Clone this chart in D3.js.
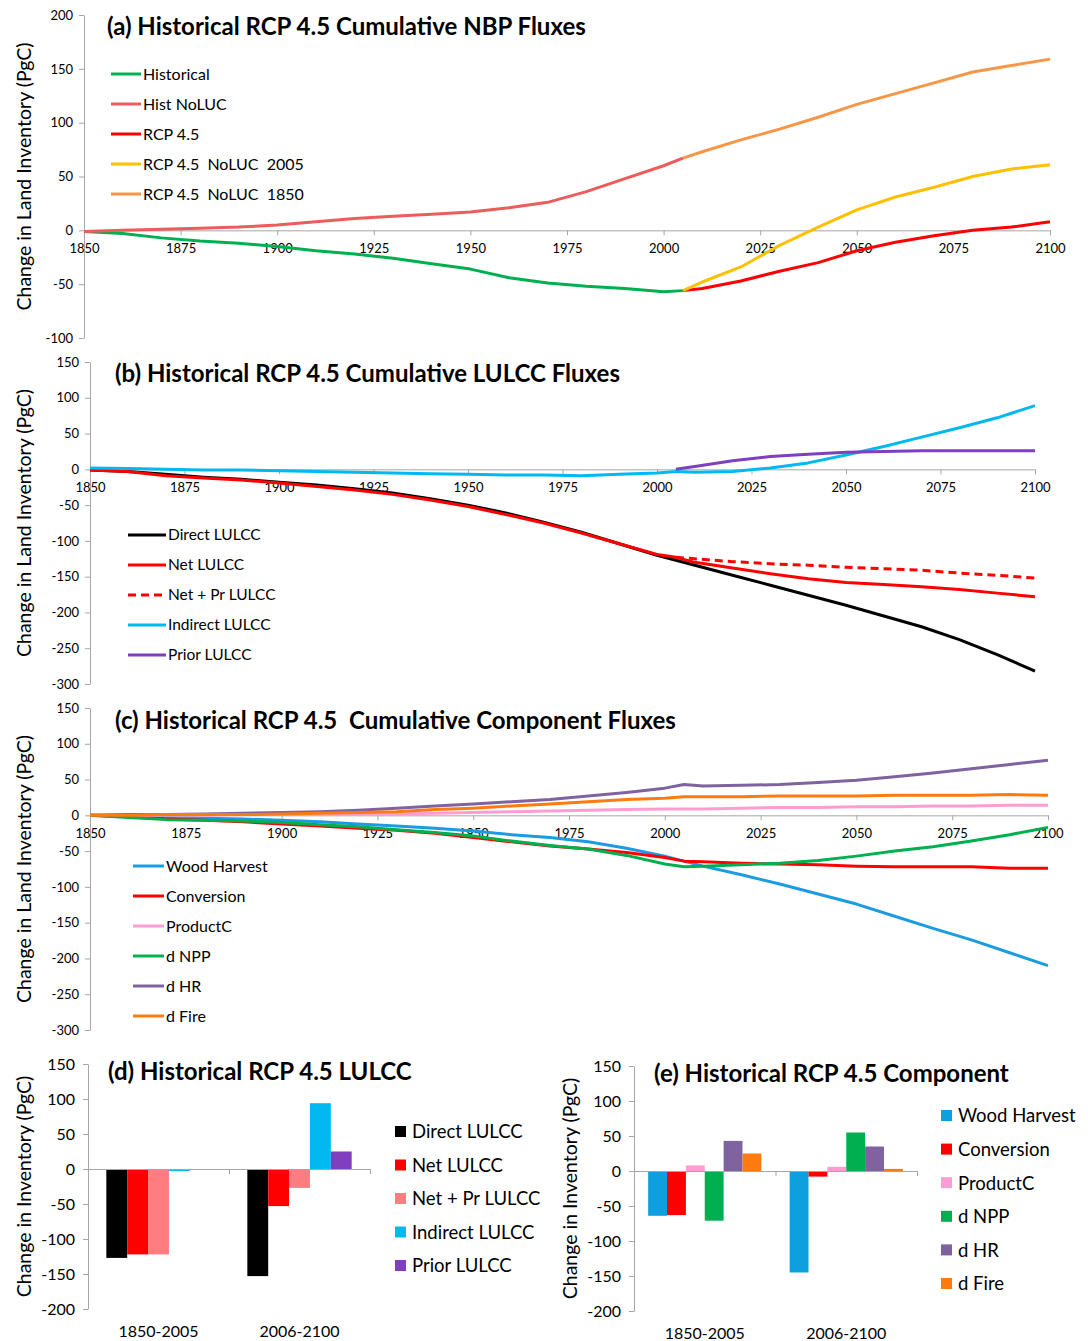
<!DOCTYPE html>
<html>
<head>
<meta charset="utf-8">
<script src="https://cdn.jsdelivr.net/npm/d3@7"></script>
<style>
  body { margin: 0; background: #fff; }
  text { font-family: Lato, "Open Sans", sans-serif; fill: #000; white-space: pre; }
</style>
</head>
<body>
<svg width="1088" height="1341"></svg>
<script>
// ---- years ----
const histYears = [1850,1860,1870,1880,1890,1900,1910,1920,1930,1940,1950,1960,1970,1980,1990,2000,2005]
const futYears = [2005,2010,2020,2030,2040,2050,2060,2070,2080,2090,2100]
const allYears = histYears.concat(futYears.slice(1))
const yearTicks = [1850,1875,1900,1925,1950,1975,2000,2025,2050,2075,2100]

// ---- (a) cumulative NBP ----
const historical = [-1,-3,-7,-10,-12,-15,-19,-22,-26,-31,-36,-44,-49,-52,-54,-57,-56]
const histNoLUC = [-1,0,1,2,3,5,8,11,13,15,17,21,26,36,48,60,67]
const rcp45 = [-56,-54,-47,-38,-30,-19,-11,-5,0,3,8]
const rcp45NoLUC2005 = [-56,-48,-34,-14,3,19,31,40,50,57,61]
const rcp45NoLUC1850 = [67,73,84,94,105,117,127,137,147,153,159]

// ---- (b) cumulative LULCC ----
const directLULCC = [-1,-3,-7,-11,-14,-18,-22,-27,-33,-41,-50,-61,-74,-88,-104,-120,-127,-134,-148,-162,-176,-190,-205,-220,-238,-259,-282]
const netLULCC = [-1,-3,-9,-12,-15,-19,-24,-29,-35,-43,-52,-63,-75,-89,-104,-119,-123,-130,-138,-146,-153,-158,-161,-164,-168,-173,-178]
const netPrLULCC = [-123,-125,-129,-132,-134,-137,-139,-141,-145,-148,-152]
const indirectLULCC = [2,1,0,-1,-1,-2,-3,-4,-5,-6,-7,-8,-8,-9,-7,-5,-3,-4,-3,2,9,20,32,45,58,72,89]
const priorLULCC = [0,4,12,18,21,24,25,26,26,26,26]

// ---- (c) cumulative components ----
const woodHarvest = [0,-1,-2,-4,-5,-7,-9,-12,-15,-18,-22,-27,-31,-37,-46,-57,-64,-71,-83,-96,-110,-124,-141,-158,-174,-192,-210]
const conversion = [0,-2,-5,-7,-9,-12,-15,-18,-21,-25,-31,-37,-43,-47,-52,-59,-64,-65,-67,-68,-69,-71,-72,-72,-72,-74,-74]
const productC = [0,0,0,0,1,1,1,2,2,3,4,5,6,7,8,9,9,9,10,11,11,12,12,13,13,14,14]
const dNPP = [0,-3,-6,-7,-8,-10,-13,-16,-20,-24,-29,-36,-42,-47,-56,-68,-72,-71,-69,-67,-63,-57,-50,-44,-36,-27,-17]
const dHR = [0,1,1,2,3,4,5,7,10,13,16,19,22,27,32,38,43,41,42,43,46,49,54,59,65,71,77]
const dFire = [0,0,1,1,1,2,3,4,5,8,10,13,16,19,22,24,26,26,26,27,27,27,28,28,28,29,28]

// ---- (d), (e) period totals ----
const periods = ['1850-2005', '2006-2100']
const lulccNames = ['Direct LULCC', 'Net LULCC', 'Net + Pr LULCC', 'Indirect LULCC', 'Prior LULCC']
const lulccTotals = [[-127,-122,-122,-3,0], [-153,-53,-27,94,25]]
const compNames = ['Wood Harvest', 'Conversion', 'ProductC', 'd NPP', 'd HR', 'd Fire']
const compTotals = [[-64,-63,8,-71,43,25], [-145,-8,6,55,35,3]]

const svg = d3.select('svg')
const axisColor = '#a6a6a6'
const plain = d => String(d)   // keep ascii hyphen for negatives, like the original

const zip = (years, vals) => years.map((yr, i) => ({ year: yr, v: vals[i] }))

function styleAxis(g, size) {
  g.select('.domain').attr('stroke', axisColor)
  g.selectAll('.tick line').attr('stroke', axisColor)
  g.selectAll('.tick text').style('font-size', size + 'px')
}

function yLabel(cx, cy, label, size) {
  svg.append('text')
    .attr('transform', `translate(${cx},${cy}) rotate(-90)`)
    .attr('text-anchor', 'middle')
    .attr('dy', '0.35em')
    .style('font-size', size + 'px')
    .text(label)
}

function title(x, y, t) {
  svg.append('text').attr('x', x).attr('y', y)
    .style('font-size', '24px').style('font-weight', 'bold')
    .text(t)
}

function linePanel(p) {
  const x = d3.scaleLinear().domain([1850, 2100]).range([p.x0, p.x1])
  const y = d3.scaleLinear().domain([p.ymin, p.ymax]).range([p.yb, p.yt])

  svg.append('g')
      .attr('transform', `translate(${p.x0},0)`)
      .call(d3.axisLeft(y).tickValues(d3.range(p.ymin, p.ymax + 1, 50)).tickFormat(plain).tickSize(5).tickPadding(6).tickSizeOuter(0))
      .call(g => styleAxis(g, 13))

  svg.append('g')
      .attr('transform', `translate(0,${y(0)})`)
      .call(d3.axisBottom(x).tickValues(yearTicks).tickFormat(plain).tickSize(5).tickPadding(8).tickSizeOuter(0))
      .call(g => styleAxis(g, 13))

  const line = d3.line().x(d => x(d.year)).y(d => y(d.v))
  p.series.forEach(s => {
    svg.append('path')
      .datum(zip(s.years, s.values))
      .attr('fill', 'none')
      .attr('stroke', s.color)
      .attr('stroke-width', 3)
      .attr('stroke-linejoin', 'round')
      .attr('stroke-dasharray', s.dash || null)
      .attr('d', line)
  })

  const leg = svg.append('g')
  p.series.forEach((s, i) => {
    const ly = p.ly + i * p.ldy
    leg.append('line')
      .attr('x1', p.lx0).attr('x2', p.lx1).attr('y1', ly).attr('y2', ly)
      .attr('stroke', s.color).attr('stroke-width', 3)
      .attr('stroke-dasharray', s.dash || null)
    leg.append('text')
      .attr('x', p.lx1 + 2).attr('y', ly).attr('dy', '0.35em')
      .style('font-size', p.lsize + 'px')
      .text(s.name)
  })

  title(p.tx, p.ty, p.title)
  yLabel(24, (p.yt + p.yb) / 2, 'Change in Land Inventory (PgC)', 19.5)
}

function barPanel(p) {
  const x0 = d3.scaleBand().domain(periods).range([p.x0, p.x1]).paddingInner(p.pin).paddingOuter(p.pout)
  const x1 = d3.scaleBand().domain(p.names).range([0, x0.bandwidth()])
  const y = d3.scaleLinear().domain([-200, 150]).range([p.yb, p.yt])

  svg.append('g')
      .attr('transform', `translate(${p.x0},0)`)
      .call(d3.axisLeft(y).tickValues(d3.range(-200, 151, 50)).tickFormat(plain).tickSize(5).tickPadding(8).tickSizeOuter(0))
      .call(g => styleAxis(g, 16))

  const groups = svg.append('g').selectAll('g')
    .data(p.totals)
    .join('g')
      .attr('transform', (d, i) => `translate(${x0(periods[i])},0)`)
  groups.selectAll('rect')
    .data(d => d.map((v, j) => ({ name: p.names[j], v, color: p.colors[j] })))
    .join('rect')
      .attr('x', d => x1(d.name))
      .attr('width', x1.bandwidth())
      .attr('y', d => y(Math.max(0, d.v)))
      .attr('height', d => Math.abs(y(d.v) - y(0)))
      .attr('fill', d => d.color)

  // zero line with category dividers
  svg.append('g')
      .attr('transform', `translate(0,${y(0)})`)
      .call(d3.axisBottom(d3.scaleLinear().domain([0, 2]).range([p.x0, p.x1])).tickValues([1, 2]).tickSize(5).tickFormat(''))
      .call(g => styleAxis(g, 16))

  svg.append('g').selectAll('text')
    .data(periods)
    .join('text')
      .attr('x', d => x0(d) + x0.bandwidth() / 2)
      .attr('y', p.catY)
      .attr('text-anchor', 'middle')
      .style('font-size', '16px')
      .text(d => d)

  const leg = svg.append('g')
  p.names.forEach((n, i) => {
    const ly = p.ly + i * p.ldy
    leg.append('rect').attr('x', p.lx).attr('y', ly - 6).attr('width', 11).attr('height', 11).attr('fill', p.colors[i])
    leg.append('text').attr('x', p.lx + 17).attr('y', ly).attr('dy', '0.35em')
      .style('font-size', '18.5px').text(n)
  })

  title(p.tx, p.ty, p.title)
  yLabel(p.ylx, (p.yt + p.yb) / 2, 'Change in Inventory (PgC)', 19.5)
}

linePanel({
  x0: 84, x1: 1050, yt: 15, yb: 338, ymin: -100, ymax: 200,
  title: '(a) Historical RCP 4.5 Cumulative NBP Fluxes', tx: 107, ty: 35,
  lx0: 111, lx1: 141, ly: 74, ldy: 30, lsize: 16,
  series: [
    { name: 'Historical', years: histYears, values: historical, color: '#00b050' },
    { name: 'Hist NoLUC', years: histYears, values: histNoLUC, color: '#ee5b5b' },
    { name: 'RCP 4.5', years: futYears, values: rcp45, color: '#ff0000' },
    { name: 'RCP 4.5  NoLUC  2005', years: futYears, values: rcp45NoLUC2005, color: '#ffc000' },
    { name: 'RCP 4.5  NoLUC  1850', years: futYears, values: rcp45NoLUC1850, color: '#f79646' }
  ]
})

linePanel({
  x0: 90, x1: 1035, yt: 362, yb: 684, ymin: -300, ymax: 150,
  title: '(b) Historical RCP 4.5 Cumulative LULCC Fluxes', tx: 115, ty: 382,
  lx0: 128, lx1: 166, ly: 535, ldy: 30, lsize: 15.5,
  series: [
    { name: 'Direct LULCC', years: allYears, values: directLULCC, color: '#000000' },
    { name: 'Net LULCC', years: allYears, values: netLULCC, color: '#ff0000' },
    { name: 'Net + Pr LULCC', years: futYears, values: netPrLULCC, color: '#ff0000', dash: '8,5' },
    { name: 'Indirect LULCC', years: allYears, values: indirectLULCC, color: '#00b9f1' },
    { name: 'Prior LULCC', years: futYears, values: priorLULCC, color: '#7f3fbf' }
  ]
})

linePanel({
  x0: 90, x1: 1048, yt: 708, yb: 1030, ymin: -300, ymax: 150,
  title: '(c) Historical RCP 4.5  Cumulative Component Fluxes', tx: 115, ty: 729,
  lx0: 133, lx1: 164, ly: 866, ldy: 30, lsize: 16,
  series: [
    { name: 'Wood Harvest', years: allYears, values: woodHarvest, color: '#1b9ce2' },
    { name: 'Conversion', years: allYears, values: conversion, color: '#ff0000' },
    { name: 'ProductC', years: allYears, values: productC, color: '#ff9dd3' },
    { name: 'd NPP', years: allYears, values: dNPP, color: '#00b050' },
    { name: 'd HR', years: allYears, values: dHR, color: '#7f63a1' },
    { name: 'd Fire', years: allYears, values: dFire, color: '#ff7b0f' }
  ]
})

barPanel({
  x0: 88, x1: 370, yt: 1064, yb: 1309, pin: 0.26, pout: 0.13,
  names: lulccNames, totals: lulccTotals,
  colors: ['#000000', '#ff0000', '#ff7c80', '#00b9f1', '#7f3fbf'],
  title: '(d) Historical RCP 4.5 LULCC', tx: 108, ty: 1080,
  lx: 395, ly: 1132, ldy: 33.5, catY: 1337, ylx: 24
})

barPanel({
  x0: 634, x1: 917, yt: 1066, yb: 1311, pin: 0.2, pout: 0.1,
  names: compNames, totals: compTotals,
  colors: ['#0ea0de', '#ff0000', '#ff9dd3', '#00b050', '#7f63a1', '#ff7b0f'],
  title: '(e) Historical RCP 4.5 Component', tx: 654, ty: 1082,
  lx: 941, ly: 1116, ldy: 33.6, catY: 1339, ylx: 570
})
</script>
</body>
</html>
